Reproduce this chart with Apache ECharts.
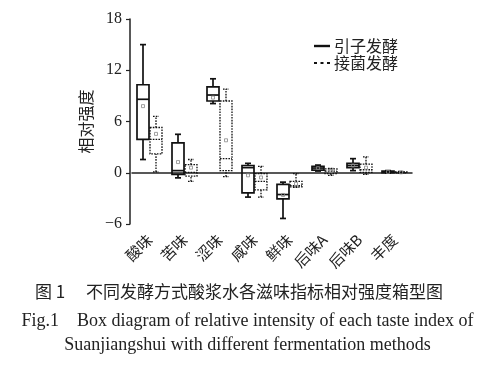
<!DOCTYPE html>
<html><head><meta charset="utf-8">
<script src="https://cdn.jsdelivr.net/npm/echarts@6/dist/echarts.min.js"></script>
<style>html,body{margin:0;padding:0;background:#fff}#c{width:495px;height:368px}</style>
</head><body><div id="c"></div>
<script>
const categories = ['酸味','苦味','涩味','咸味','鲜味','后味A','后味B','丰度'];
const seriesNames = ['引子发酵','接菌发酵'];
const yTicks = [-6, 0, 6, 12, 18];
// [min, q1, median, q3, max, mean]
const yinziValues = [
  [1.55, 3.9, 8.6, 10.3, 15.0, 7.8],
  [-0.6, -0.2, 0.25, 3.5, 4.5, 1.25],
  [8.1, 8.4, 9.1, 10.05, 11.0, 8.8],
  [-2.85, -2.35, 0.6, 0.85, 1.1, -0.3],
  [-5.35, -3.05, -2.55, -1.35, -1.1, -2.6],
  [0.2, 0.3, 0.55, 0.75, 0.9, 0.55],
  [0.25, 0.6, 0.85, 1.1, 1.65, 0.85],
  [-0.05, 0.0, 0.1, 0.2, 0.25, 0.1]
];
const jiejunValues = [
  [0.1, 2.2, 3.9, 5.3, 6.6, 4.55],
  [-1.0, -0.4, 0.05, 0.95, 1.55, 0.6],
  [-0.45, 0.25, 1.65, 8.4, 9.8, 3.8],
  [-2.85, -2.0, -1.0, -0.1, 0.75, -0.55],
  [-1.7, -1.65, -1.5, -1.0, -0.1, -1.3],
  [-0.3, -0.1, 0.2, 0.45, 0.5, 0.2],
  [-0.2, 0.05, 0.35, 1.0, 1.85, 0.6],
  [-0.05, 0.0, 0.05, 0.1, 0.15, 0.05]
];

function toData(arr){ return arr.map((v,i)=>[i].concat(v)); }

function makeRender(side, dashed){
  return function(params, api){
    const i = api.value(0);
    const v = [1,2,3,4,5,6].map(k=>api.value(k));
    const cx0 = api.coord([i, 0])[0];
    const W = 12;
    const x0 = side < 0 ? cx0 - W - 0.5 : cx0 + 0.5;
    const x1 = x0 + W;
    const xm = (x0 + x1) / 2;
    const y = v.map(t=>api.coord([i, t])[1]);
    const st = {stroke:'#111', fill:null, lineWidth: dashed ? 1.3 : 1.7, lineDash: dashed ? [1.6,1.2] : null};
    const cap = 3;
    const ch = [];
    ch.push({type:'line', shape:{x1:xm,y1:y[0],x2:xm,y2:y[1]}, style:st});
    ch.push({type:'line', shape:{x1:xm,y1:y[3],x2:xm,y2:y[4]}, style:st});
    ch.push({type:'line', shape:{x1:xm-cap,y1:y[0],x2:xm+cap,y2:y[0]}, style:st});
    ch.push({type:'line', shape:{x1:xm-cap,y1:y[4],x2:xm+cap,y2:y[4]}, style:st});
    ch.push({type:'rect', shape:{x:x0,y:y[3],width:W,height:Math.max(y[1]-y[3],1)}, style:st});
    ch.push({type:'line', shape:{x1:x0,y1:y[2],x2:x1,y2:y[2]}, style:st});
    ch.push({type:'rect', shape:{x:xm-1.5,y:y[5]-1.5,width:3,height:3}, style:{stroke:'#888',fill:null,lineWidth:0.8}});
    return {type:'group', children:ch};
  };
}

const chart = echarts.init(document.getElementById('c'));
chart.setOption({
  animation:false,
  backgroundColor:'#fff',
  grid:{left:132, right:83, top:19, bottom:144},
  legend:{
    right:92, top:33, orient:'vertical', itemGap:1, itemWidth:16, itemHeight:3,
    textStyle:{fontFamily:'Noto Sans CJK SC', fontSize:16, color:'#222', padding:[0,0,0,-1]},
    data:[
      {name:seriesNames[0], icon:'path://M0,0H16V2.4H0Z', itemStyle:{color:'#111'}},
      {name:seriesNames[1], icon:'path://M0,0H3V2H0ZM6.5,0H9.5V2H6.5ZM13,0H16V2H13Z', itemStyle:{color:'#111'}}
    ]
  },
  xAxis:{
    type:'category', data:categories,
    axisLine:{lineStyle:{color:'#222', width:1.5}},
    axisTick:{alignWithLabel:true, length:4, lineStyle:{color:'#222', width:1.2}},
    axisLabel:{rotate:45, margin:13, fontFamily:'Noto Sans CJK SC', fontSize:15, color:'#222'}
  },
  yAxis:{
    type:'value', min:-6, max:18, interval:6, offset:2,
    name:'相对强度', nameLocation:'middle', nameGap:33, nameRotate:90,
    nameTextStyle:{fontFamily:'Noto Sans CJK SC', fontSize:16, color:'#222'},
    axisLine:{show:true, lineStyle:{color:'#222', width:1.5}},
    axisTick:{show:true, length:4, lineStyle:{color:'#222', width:1.2}},
    splitLine:{show:false},
    axisLabel:{fontFamily:'Liberation Serif', fontSize:16, color:'#222', margin:8,
      formatter:function(v){ return yTicks.indexOf(v)>=0 ? String(v).replace('-','\u2212') : ''; }}
  },
  series:[
    {name:seriesNames[0], type:'custom', renderItem:makeRender(-1,false), data:toData(yinziValues),
      encode:{x:0, y:[1,5]}, itemStyle:{color:'#111'}},
    {name:seriesNames[1], type:'custom', renderItem:makeRender(1,true), data:toData(jiejunValues),
      encode:{x:0, y:[1,5]}, itemStyle:{color:'#111'}}
  ],
  graphic:[
    {type:'text', left:35, top:283, style:{text:'图 1\u3000 不同发酵方式酸浆水各滋味指标相对强度箱型图', font:'17px "Noto Sans CJK SC"', fill:'#222'}},
    {type:'text', left:'center', top:312, style:{text:'Fig.1    Box diagram of relative intensity of each taste index of', font:'18px "Liberation Serif"', fill:'#222'}},
    {type:'text', left:'center', top:336, style:{text:'Suanjiangshui with different fermentation methods', font:'18px "Liberation Serif"', fill:'#222'}}
  ]
});
</script></body></html>
